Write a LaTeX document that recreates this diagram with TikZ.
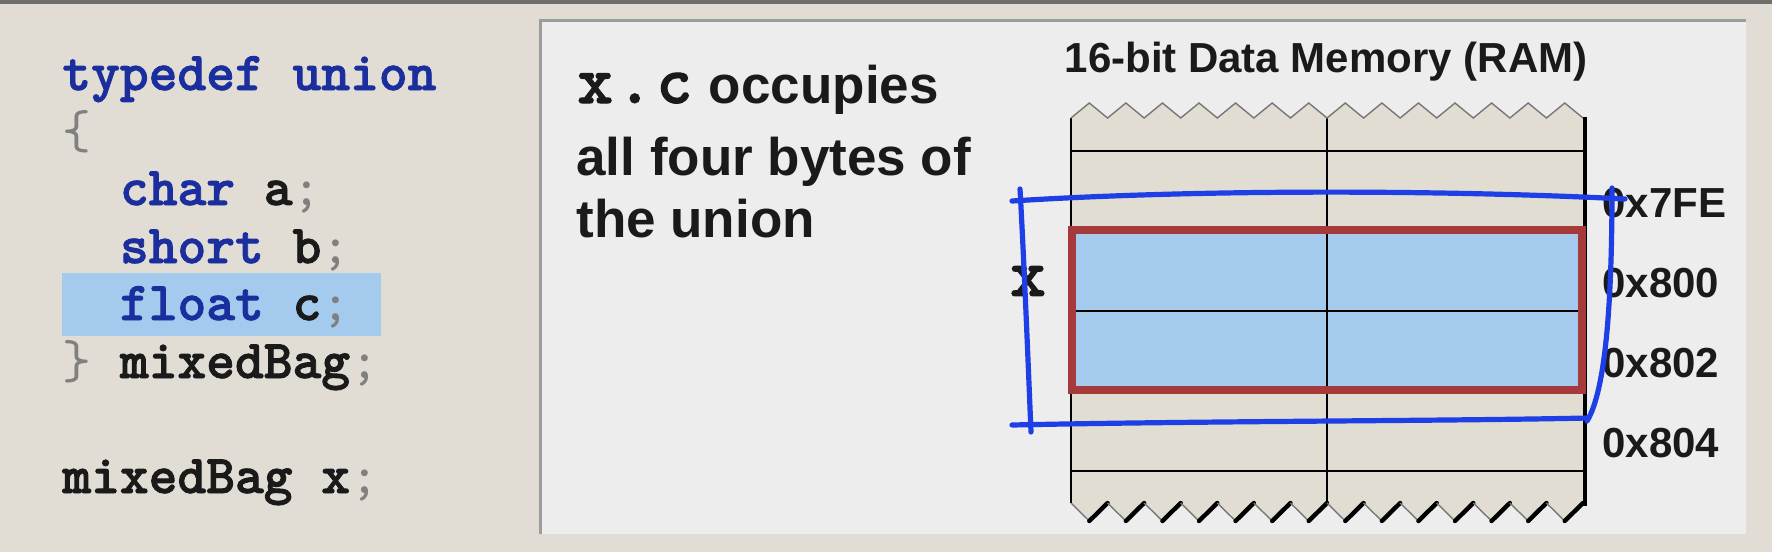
\documentclass[tikz,border=0pt]{standalone}
\usepackage{fontspec}
\setmainfont{Liberation Sans}
\newfontfamily\codefont{lmmonolt10-bold.otf}[FakeBold=1.6]
\newfontfamily\codelight{lmmono10-regular.otf}
\definecolor{bgbeige}{HTML}{E1DDD4}
\definecolor{topgray}{HTML}{6E6E6A}
\definecolor{panelfill}{HTML}{EDEDEE}
\definecolor{paneledge}{HTML}{9C9C9C}
\definecolor{kwblue}{HTML}{1B2E9E}
\definecolor{punct}{HTML}{808080}
\definecolor{inkblack}{HTML}{1A1A1A}
\definecolor{hlblue}{HTML}{A4CAEE}
\definecolor{memfill}{HTML}{E2DDD3}
\definecolor{zigzag}{HTML}{777777}
\definecolor{redbox}{HTML}{A63A3A}
\definecolor{penblue}{HTML}{1F3FE6}
\newcommand\KW[1]{\textcolor{kwblue}{#1}}
\newcommand\PU[1]{{\codelight\textcolor{punct}{#1}}}
\tikzset{
  codeline/.style={anchor=base west, inner sep=0pt, text=inkblack,
    font=\codefont\fontsize{27.4pt}{30pt}\selectfont},
  bodytext/.style={anchor=base west, inner sep=0pt, text=inkblack,
    font=\bfseries\fontsize{26.5pt}{30pt}\selectfont},
  addr/.style={anchor=base west, inner sep=0pt, text=inkblack,
    font=\bfseries\fontsize{21pt}{24pt}\selectfont},
  gridline/.style={draw=black, line width=0.6pt},
  penline/.style={draw=penblue, line width=2.6pt, line cap=round, line join=round},
}
\begin{document}
\begin{tikzpicture}[x=0.5pt,y=-0.5pt]
\useasboundingbox (0,0) rectangle (1772,552);
% background
\fill[bgbeige] (0,0) rectangle (1772,552);
\fill[topgray] (0,0) rectangle (1772,3.5);
% left code panel
\fill[hlblue] (62,273) rectangle (381,336);
\node[codeline] (c1) at (62,90) {\KW{typedef union}};
\node[codeline] (c2) at (62,148) {\PU{\{}};
\node[codeline] (c3) at (119.6,205) {\KW{char} a\PU{;}};
\node[codeline] (c4) at (119.6,263) {\KW{short} b\PU{;}};
\node[codeline] (c5) at (119.6,320) {\KW{float} c\PU{;}};
\node[codeline] (c6) at (62,378) {\PU{\}} mixedBag\PU{;}};
\node[codeline] (c7) at (62,493) {mixedBag x\PU{;}};
% right white panel
\fill[panelfill] (539,19) rectangle (1746,534);
\draw[paneledge, line width=1.5pt] (540.5,534) -- (540.5,20.5) -- (1746,20.5);
% explanatory text
\node[bodytext] (t1) at (575,103) {{\codefont\fontsize{34pt}{36pt}\selectfont
  \makebox[19.8pt]{x}\makebox[19.8pt]{.}\makebox[19.8pt]{c}} occupies};
\node[bodytext] (t2) at (576,175) {all four bytes of};
\node[bodytext] (t3) at (576,237) {the union};
% memory title
\node[anchor=base, inner sep=0pt, text=inkblack, font=\bfseries\fontsize{21pt}{24pt}\selectfont]
  (title) at (1326,72) {16-bit Data Memory (RAM)};
% memory column fill
\fill[memfill] (1071,118) \foreach \i in {1,...,14} { -- ++(18.286,-15) -- ++(18.286,15) }
  -- (1583,503) \foreach \i in {1,...,14} { -- ++(-18.286,18) -- ++(-18.286,-18) } -- cycle;
\fill[hlblue] (1071,230) rectangle (1583,390);
% grid
\draw[gridline] (1071,151) -- (1583,151);
\draw[gridline] (1071,311) -- (1583,311);
\draw[gridline] (1071,471) -- (1583,471);
\draw[gridline] (1327,118) -- (1327,503);
\draw[gridline] (1071,118) -- (1071,503);
% top zigzag
\draw[zigzag, line width=0.7pt, line join=miter] (1071,118)
  \foreach \i in {1,...,14} { -- ++(18.286,-15) -- ++(18.286,15) };
% bottom zigzag
\foreach \i in {0,...,13} {
  \draw[zigzag, line width=0.7pt] (1071+36.571*\i,503) -- ++(18.286,18);
  \draw[black, line width=2.2pt, line cap=round] (1071+36.571*\i+18.286,521) -- ++(18.286,-18);
}
% right shadow edge
\draw[black, line width=2.2pt] (1585,117) -- (1585,506);
% c occupies these cells
\draw[redbox, line width=4pt] (1072,230) rectangle (1582,390);
% addresses
\node[addr] (a1) at (1602,217) {0x7FE};
\node[addr] (a2) at (1602,297) {0x800};
\node[addr] (a3) at (1602,377) {0x802};
\node[addr] (a4) at (1602,457) {0x804};
% variable label
\node[inner sep=0pt, text=inkblack, font=\codefont\fontsize{34pt}{36pt}\selectfont]
  (xv) at (1028,281) {x};
% hand-drawn outline of x
\draw[penline] (1012,201) .. controls (1200,189) and (1450,190) .. (1625,199);
\draw[penline] (1020,189) .. controls (1024,260) and (1028,360) .. (1031,432);
\draw[penline] (1012,425) .. controls (1200,421) and (1450,421) .. (1588,418);
\draw[penline] (1612,188) .. controls (1612,300) and (1606,390) .. (1587,421);
\end{tikzpicture}
\end{document}
